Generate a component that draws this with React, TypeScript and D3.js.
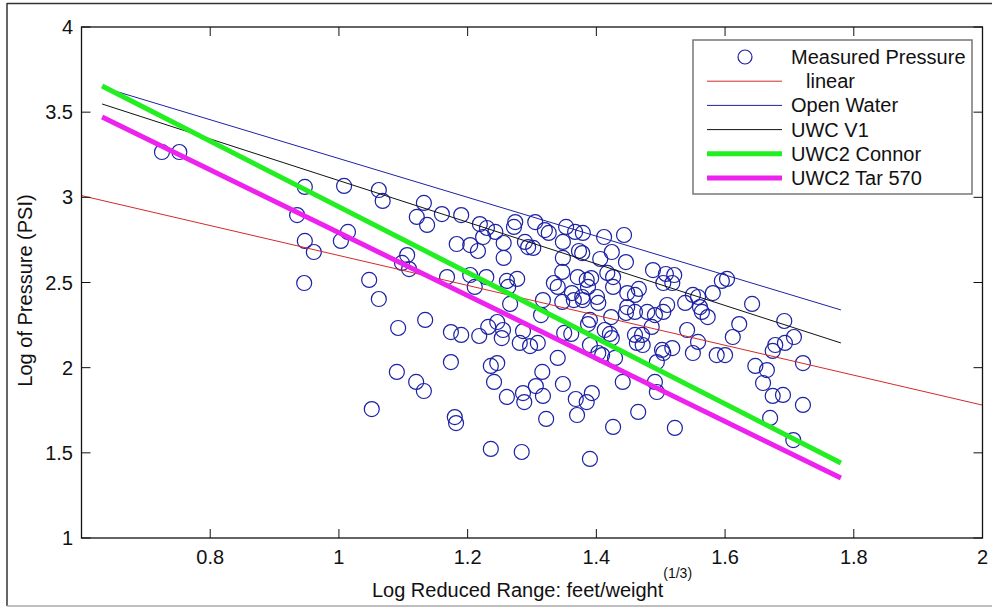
import React from "react";
import * as d3 from "d3";

// Measured pressure scatter (log reduced range, log pressure)
const measuredX = [
  0.725, 0.752, 0.947, 1.008, 0.935, 1.014, 1.003, 0.947, 0.961, 0.946,
  1.047, 1.062, 1.092, 1.090, 1.051, 1.062, 1.068, 1.132, 1.121, 1.137,
  1.160, 1.190, 1.219, 1.230, 1.243, 1.274, 1.272, 1.305, 1.320, 1.183,
  1.204, 1.216, 1.224, 1.256, 1.256, 1.289, 1.294, 1.302, 1.106, 1.098,
  1.109, 1.168, 1.204, 1.229, 1.211, 1.261, 1.277, 1.263, 1.266, 1.317,
  1.314, 1.134, 1.174, 1.190, 1.218, 1.232, 1.246, 1.255, 1.253, 1.286,
  1.281, 1.297, 1.309, 1.174, 1.236, 1.246, 1.241, 1.120, 1.132, 1.180,
  1.182, 1.261, 1.286, 1.288, 1.306, 1.316, 1.317, 1.322, 1.348, 1.368,
  1.370, 1.236, 1.284, 1.326, 1.353, 1.367, 1.379, 1.412, 1.443, 1.348,
  1.348, 1.373, 1.378, 1.406, 1.424, 1.446, 1.347, 1.371, 1.392, 1.417,
  1.426, 1.488, 1.508, 1.521, 1.504, 1.518, 1.595, 1.603, 1.334, 1.340,
  1.362, 1.378, 1.385, 1.387, 1.401, 1.403, 1.426, 1.448, 1.466, 1.460,
  1.347, 1.365, 1.379, 1.390, 1.387, 1.423, 1.448, 1.446, 1.460, 1.479,
  1.491, 1.504, 1.510, 1.538, 1.550, 1.561, 1.573, 1.581, 1.350, 1.361,
  1.390, 1.413, 1.421, 1.424, 1.403, 1.409, 1.429, 1.460, 1.463, 1.472,
  1.471, 1.486, 1.502, 1.504, 1.518, 1.494, 1.541, 1.558, 1.550, 1.587,
  1.340, 1.393, 1.385, 1.441, 1.491, 1.494, 1.465, 1.426, 1.522, 1.558,
  1.564, 1.600, 1.642, 1.622, 1.612, 1.692, 1.707, 1.693, 1.678, 1.674,
  1.721, 1.647, 1.665, 1.659, 1.674, 1.690, 1.721, 1.670, 1.706, 1.390,
];
const measuredY = [
  3.266, 3.266, 3.061, 3.067, 2.896, 2.797, 2.744, 2.744, 2.679, 2.497,
  2.515, 2.403, 2.233, 1.975, 1.757, 3.043, 2.979, 2.967, 2.885, 2.838,
  2.902, 2.896, 2.843, 2.820, 2.797, 2.855, 2.826, 2.855, 2.808, 2.726,
  2.720, 2.685, 2.767, 2.732, 2.644, 2.738, 2.708, 2.703, 2.661, 2.615,
  2.579, 2.532, 2.544, 2.532, 2.474, 2.509, 2.521, 2.474, 2.374, 2.397,
  2.309, 2.280, 2.209, 2.192, 2.186, 2.239, 2.268, 2.221, 2.174, 2.215,
  2.145, 2.127, 2.145, 2.033, 2.010, 2.027, 1.916, 1.916, 1.863, 1.710,
  1.675, 1.828, 1.851, 1.798, 1.892, 1.975, 1.834, 1.699, 1.904, 1.816,
  1.722, 1.523, 1.505, 2.791, 2.826, 2.797, 2.791, 2.767, 2.779, 2.738,
  2.644, 2.685, 2.673, 2.638, 2.679, 2.620, 2.562, 2.532, 2.526, 2.556,
  2.532, 2.573, 2.550, 2.544, 2.497, 2.497, 2.509, 2.521, 2.497, 2.474,
  2.438, 2.415, 2.515, 2.474, 2.415, 2.380, 2.474, 2.438, 2.462, 2.427,
  2.386, 2.397, 2.397, 2.280, 2.256, 2.297, 2.356, 2.321, 2.327, 2.327,
  2.309, 2.327, 2.368, 2.380, 2.427, 2.356, 2.297, 2.438, 2.204, 2.198,
  2.133, 2.221, 2.198, 2.174, 2.086, 2.074, 2.057, 2.192, 2.145, 2.133,
  2.192, 2.239, 2.104, 2.086, 2.115, 2.033, 2.221, 2.151, 2.086, 2.074,
  2.057, 1.851, 1.798, 1.916, 1.916, 1.857, 1.740, 1.652, 1.646, 2.415,
  2.327, 2.074, 2.374, 2.256, 2.180, 2.274, 2.180, 2.145, 2.133, 2.098,
  2.027, 2.010, 1.986, 1.910, 1.834, 1.840, 1.781, 1.705, 1.575, 1.464,
];

// Fitted / model lines (endpoints)
const linearX = [0.6, 2.0];
const linearY = [3.01, 1.78];
const modelX = [0.632, 1.78];
const openWaterY = [3.647, 2.339];
const uwcV1Y = [3.548, 2.145];
const connorY = [3.654, 1.44];
const tar570Y = [3.472, 1.352];

const xTicks = [0.8, 1, 1.2, 1.4, 1.6, 1.8, 2];
const yTicks = [1, 1.5, 2, 2.5, 3, 3.5, 4];

const legendLabels = [
  "Measured Pressure",
  "linear",
  "Open Water",
  "UWC V1",
  "UWC2 Connor",
  "UWC2 Tar 570",
];

const BLUE = "#1c22a4";
const FONT = "'Liberation Sans', Arial, Helvetica, sans-serif";

export default function App() {
  const W = 992;
  const H = 607;
  const left = 81.5, right = 982.5, top = 27, bottom = 538;
  const x = d3.scaleLinear().domain([0.6, 2]).range([left, right]);
  const y = d3.scaleLinear().domain([1, 4]).range([bottom, top]);
  const line = d3
    .line<[number, number]>()
    .x((d) => x(d[0]))
    .y((d) => y(d[1]));

  const series = [
    { xs: linearX, ys: linearY, color: "#d42a2a", w: 1 },
    { xs: modelX, ys: openWaterY, color: BLUE, w: 1 },
    { xs: modelX, ys: uwcV1Y, color: "#111111", w: 1 },
    { xs: modelX, ys: connorY, color: "#22ee22", w: 5 },
    { xs: modelX, ys: tar570Y, color: "#ee22ee", w: 5 },
  ];

  const tickLen = 9;
  const legX = 693, legY = 40, legW = 279, legH = 154;
  const rowY = (i: number) => 57 + i * 24.2;

  return (
    <svg
      width={W}
      height={H}
      style={{ position: "absolute", left: 0, top: 0, background: "#fff" }}
      fontFamily={FONT}
    >
      <rect x={0} y={0} width={W} height={H} fill="#fff" />
      {/* figure frame */}
      <line x1={7} y1={3.5} x2={W} y2={3.5} stroke="#333" strokeWidth={1.5} />
      <line x1={7} y1={3} x2={7} y2={606} stroke="#333" strokeWidth={1.5} />
      <line x1={7} y1={606} x2={W} y2={606} stroke="#aaa" strokeWidth={1.5} />

      {/* scatter */}
      {measuredX.map((vx, i) => (
        <circle
          key={i}
          cx={x(vx)}
          cy={y(measuredY[i])}
          r={7.5}
          fill="none"
          stroke={BLUE}
          strokeWidth={1.2}
        />
      ))}

      {/* lines */}
      {series.map((s, i) => (
        <path
          key={i}
          d={line(s.xs.map((v, j) => [v, s.ys[j]] as [number, number])) || ""}
          fill="none"
          stroke={s.color}
          strokeWidth={s.w}
        />
      ))}

      {/* axes box */}
      <rect
        x={left}
        y={top}
        width={right - left}
        height={bottom - top}
        fill="none"
        stroke="#111"
        strokeWidth={1.3}
      />
      {xTicks.map((t) => (
        <g key={"x" + t}>
          <line x1={x(t)} x2={x(t)} y1={bottom} y2={bottom - tickLen} stroke="#111" />
          <line x1={x(t)} x2={x(t)} y1={top} y2={top + tickLen} stroke="#111" />
          <text x={x(t)} y={564} textAnchor="middle" fontSize={20} fill="#111">
            {String(t)}
          </text>
        </g>
      ))}
      {yTicks.map((t) => (
        <g key={"y" + t}>
          <line x1={left} x2={left + tickLen} y1={y(t)} y2={y(t)} stroke="#111" />
          <line x1={right} x2={right - tickLen} y1={y(t)} y2={y(t)} stroke="#111" />
          <text x={73} y={y(t) + 7} textAnchor="end" fontSize={20} fill="#111">
            {String(t)}
          </text>
        </g>
      ))}

      {/* axis labels */}
      <text x={532} y={597} textAnchor="middle" fontSize={20} fill="#111">
        Log Reduced Range: feet/weight
        <tspan fontSize={14} dy={-19}>(1/3)</tspan>
      </text>
      <text
        transform={`translate(32, ${(top + bottom) / 2 + 8}) rotate(-90)`}
        textAnchor="middle"
        fontSize={20}
        fill="#111"
      >
        Log of Pressure (PSI)
      </text>

      {/* legend */}
      <rect
        x={legX}
        y={legY}
        width={legW}
        height={legH}
        fill="#fff"
        stroke="#777"
        strokeWidth={1.5}
      />
      {legendLabels.map((lab, i) => {
        const cy = rowY(i);
        let sample;
        if (i === 0) {
          sample = <circle cx={745} cy={cy} r={7} fill="none" stroke={BLUE} strokeWidth={1.2} />;
        } else {
          const s = series[i - 1];
          sample = <line x1={707} x2={782} y1={cy} y2={cy} stroke={s.color} strokeWidth={s.w} />;
        }
        return (
          <g key={lab}>
            {sample}
            <text x={i === 1 ? 806 : 791} y={cy + 7} fontSize={20} fill="#111">
              {lab}
            </text>
          </g>
        );
      })}
    </svg>
  );
}
